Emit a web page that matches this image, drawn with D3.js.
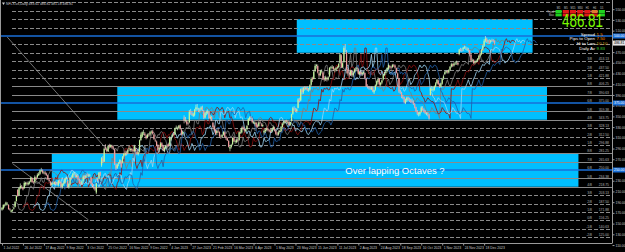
<!DOCTYPE html>
<html>
<head>
<meta charset="utf-8">
<script src="https://cdn.jsdelivr.net/npm/d3@7/dist/d3.min.js"></script>
<style>
html, body { margin: 0; padding: 0; background: #000; overflow: hidden; }
svg { display: block; font-family: "Liberation Sans", Arial, sans-serif; }
</style>
</head>
<body>
<svg id="chart" width="625" height="252"></svg>
<script>
// NFLX.us daily, 1 Jul 2022 .. 29 Dec 2023 (one row per month)
var opens = [
	176,178,184,185,187,185,177,172,174,178,181,192,213,203,216,219,217,216,223,225,
	223,225,228,235,228,227,236,236,240,243,249,249,245,245,243,240,232,228,222,226,224,227,224,
	222,230,227,218,224,226,234,229,218,224,236,236,243,241,237,239,232,225,225,230,238,
	236,242,240,240,236,224,219,216,208,232,234,246,259,271,266,292,289,285,295,293,295,
	292,288,259,254,261,263,266,264,275,278,283,282,290,287,289,288,285,290,284,280,284,
	306,312,320,318,314,311,316,316,320,322,316,306,303,296,289,292,300,295,286,291,296,
	298,297,307,312,318,316,329,326,328,333,325,317,348,343,341,337,339,359,356,351,
	353,363,365,362,361,363,366,360,348,356,357,358,346,349,338,331,325,319,323,
	321,312,312,316,320,312,309,304,290,293,298,310,303,302,306,306,320,320,330,327,323,326,334,
	344,348,346,338,336,338,332,332,339,335,332,320,322,325,327,324,323,322,326,
	329,323,318,316,321,323,330,337,339,342,339,340,334,342,355,365,363,360,366,382,380,400,
	395,404,401,403,399,400,409,421,420,435,444,444,430,427,433,432,420,419,420,419,425,
	440,441,442,436,437,440,442,450,464,442,452,478,470,438,428,428,435,427,432,438,
	439,438,429,433,429,431,431,420,406,404,404,401,404,395,400,409,414,420,409,413,419,427,431,
	435,439,444,442,442,446,445,440,430,420,397,394,386,385,375,380,385,381,380,378,
	377,373,367,360,354,354,359,366,363,360,355,356,353,390,401,400,400,406,412,417,410,405,
	411,421,429,432,434,432,437,443,447,445,449,450,450,466,476,474,475,478,478,476,476,
	473,465,454,455,450,452,454,457,463,466,474,482,491,495,490,492,489,492,492,491
];
var highs = [
	180,186,187,191,190,186,179,176,177,181,192,203,214,218,225,222,219,229,228,228,
	229,230,238,236,230,240,238,244,246,251,254,251,248,248,245,241,234,229,228,229,229,229,227,
	231,232,228,225,227,235,238,231,226,237,240,245,247,244,242,240,233,228,231,240,240,
	241,245,243,243,237,226,222,219,226,233,246,247,274,276,292,298,292,297,299,298,297,
	296,290,262,262,265,270,268,276,282,286,286,290,295,292,291,290,297,294,287,285,307,
	320,322,325,321,316,318,319,323,324,325,318,309,305,298,294,302,302,297,294,297,298,
	301,313,312,318,321,329,333,331,334,335,327,324,352,349,344,340,362,364,360,357,
	364,372,373,366,366,369,370,362,358,361,363,360,353,351,340,333,327,325,327,
	322,316,317,323,322,314,311,306,296,299,311,314,307,308,310,322,326,331,333,329,327,334,347,
	350,351,348,342,341,340,335,340,343,338,337,326,328,330,329,326,327,328,332,
	331,325,321,323,325,332,339,341,343,344,342,341,340,355,368,369,366,365,384,385,402,404,
	405,406,406,406,403,410,423,424,437,448,448,447,432,437,438,434,425,426,424,425,442,
	444,446,444,440,442,444,450,468,466,452,481,485,474,441,432,437,437,433,440,442,
	443,440,435,436,434,435,432,422,410,407,406,406,406,400,410,417,423,421,414,419,429,433,436,
	442,449,446,444,448,448,447,441,432,422,400,396,390,387,383,387,387,385,383,383,
	380,375,368,362,358,359,369,369,365,362,358,358,355,404,407,405,408,414,420,419,412,413,
	422,428,435,436,436,438,444,450,449,451,453,454,452,476,478,477,480,482,481,479,478,
	474,467,458,457,454,456,459,465,468,476,484,494,500,497,493,494,493,495,494,492
];
var lows = [
	174,176,180,183,184,176,174,170,172,176,180,191,200,202,214,215,212,215,220,221,
	221,223,227,226,224,226,231,235,239,241,246,243,242,240,239,231,227,220,220,223,222,222,221,
	219,225,216,215,221,224,232,217,215,222,232,234,240,236,234,231,224,221,222,228,233,
	234,238,237,237,223,218,214,211,205,228,233,239,256,263,265,287,283,284,290,291,289,
	287,259,250,252,257,261,254,262,271,276,277,279,285,284,284,282,283,285,278,277,282,
	304,310,315,313,307,309,312,313,318,316,306,302,294,285,283,290,292,285,283,289,292,
	293,295,304,310,313,315,326,324,326,325,314,315,337,339,333,333,337,353,351,349,
	350,359,361,358,357,361,360,345,346,352,354,345,344,341,328,322,315,315,319,
	310,308,310,314,311,306,304,292,285,290,296,302,299,300,302,304,317,318,325,320,320,324,333,
	342,344,337,336,333,329,329,330,336,331,330,316,319,322,322,320,319,320,324,
	322,315,313,314,318,321,328,334,336,337,336,332,332,340,353,361,358,357,365,376,378,391,
	392,398,399,397,396,398,407,414,419,433,439,430,422,425,430,418,415,416,415,417,423,
	437,438,435,432,434,438,440,448,440,440,450,470,430,426,422,426,424,424,430,433,
	436,428,427,426,426,428,419,405,402,400,399,399,395,392,398,407,411,407,406,410,417,425,428,
	432,437,439,437,440,442,439,430,420,394,392,384,382,374,373,377,379,377,375,374,
	371,365,358,352,350,351,357,361,357,354,352,350,344,389,397,396,398,404,410,408,403,403,
	409,418,427,430,430,430,435,441,442,443,446,446,445,464,471,470,472,476,474,472,469,
	462,451,451,447,447,450,452,455,460,464,472,480,488,487,485,485,486,489,488,484
];
var closes = [
	179.9,185.0,184.1,189.3,187.0,177.0,176.0,174.5,175.7,179.6,190.8,201.6,201.6,216.4,220.4,218.5,213.9,226.0,226.4,224.9,
	226.2,227.3,235.9,227.4,226.8,236.7,232.3,241.0,243.1,249.3,249.3,245.2,245.2,242.8,241.2,232.2,229.7,222.3,226.0,224.6,227.4,224.0,223.6,
	230.0,226.4,218.4,224.3,225.2,233.6,235.0,218.5,224.0,235.4,235.0,242.5,243.6,237.0,240.1,232.6,225.3,224.1,229.0,237.5,235.4,
	239.0,241.3,240.7,240.6,224.8,220.6,216.3,213.7,224.9,230.0,245.2,240.0,272.4,266.0,289.6,290.4,285.1,294.7,293.4,296.4,291.9,
	290.0,260.8,252.7,260.0,262.6,268.6,256.0,274.0,279.9,282.0,280.8,287.0,290.2,289.2,286.9,285.0,294.8,286.3,280.0,283.0,305.5,
	316.0,320.4,320.0,315.2,309.3,316.0,315.2,320.6,321.6,318.1,308.0,305.2,296.4,286.9,291.3,299.5,294.2,286.4,291.5,295.0,294.9,
	294.9,309.4,309.7,315.2,315.5,327.5,330.1,327.3,332.8,326.8,315.8,321.0,342.5,343.0,336.4,336.2,358.6,357.4,353.1,353.9,
	361.9,366.9,365.9,361.5,362.9,366.8,362.5,347.4,355.9,357.9,359.3,347.0,349.5,343.0,330.1,325.0,317.5,322.9,322.1,
	312.9,311.5,315.2,321.0,312.0,309.3,305.1,293.5,292.8,297.0,310.1,303.5,303.5,305.8,305.8,320.4,320.1,328.4,327.7,323.5,325.1,332.0,345.5,
	348.3,346.8,339.3,339.3,338.2,331.0,331.2,338.2,338.2,332.7,333.7,323.0,325.4,327.2,324.0,322.2,321.2,325.9,329.9,
	324.1,317.5,315.9,320.4,322.8,330.5,336.6,339.0,341.6,339.7,339.9,333.8,339.3,353.9,365.4,364.3,359.8,363.3,381.5,378.8,400.5,395.2,
	403.1,400.5,403.7,399.3,399.9,408.2,420.0,418.7,433.7,444.3,445.9,431.8,426.4,434.8,434.1,419.7,418.4,422.9,419.6,422.7,440.5,
	441.4,442.6,438.1,437.5,440.0,441.7,447.7,465.7,441.4,449.3,477.6,477.6,437.4,429.9,427.5,434.9,426.6,431.0,437.6,439.0,
	440.2,429.5,433.0,428.4,431.6,432.6,420.7,406.5,405.6,403.0,401.6,404.1,397.0,399.0,408.1,415.5,419.7,409.3,412.7,417.1,427.0,430.0,433.7,
	439.9,445.8,441.4,441.7,445.8,445.0,441.1,431.4,421.9,396.9,394.7,386.3,384.3,376.5,379.8,384.8,382.0,379.2,377.6,377.6,
	373.7,367.2,360.4,354.8,355.7,358.2,366.5,363.2,359.2,355.7,355.7,354.0,346.2,401.8,401.0,400.5,405.8,411.7,418.4,410.1,405.7,411.7,
	420.2,424.7,432.4,434.7,432.5,436.6,442.6,447.2,444.6,448.7,450.2,450.5,446.9,474.5,474.5,473.2,478.0,479.2,477.9,476.1,474.0,
	465.7,453.9,455.1,449.4,452.0,453.8,457.5,463.1,466.0,473.4,481.4,491.0,495.0,489.0,491.6,486.8,491.6,491.8,490.5,486.8
];

// one label every 16 bars, as the terminal draws them
var timeLabels = ["1 Jul 2022","26 Jul 2022","17 Aug 2022","9 Sep 2022","3 Oct 2022","25 Oct 2022","16 Nov 2022","9 Dec 2022",
	"4 Jan 2023","27 Jan 2023","21 Feb 2023","16 Mar 2023","6 Apr 2023","1 May 2023","23 May 2023","15 Jun 2023",
	"11 Jul 2023","2 Aug 2023","24 Aug 2023","18 Sep 2023","10 Oct 2023","1 Nov 2023","24 Nov 2023","18 Dec 2023"];

// murrey math levels (1/8 of a 125 octave) and the octave zones
var mmLevels = [562.5,546.875,531.25,515.625,500,484.375,468.75,453.125,437.5,421.875,406.25,390.625,375,359.375,343.75,
	328.125,312.5,296.875,281.25,265.625,250,234.375,218.75,203.125,187.5,171.875,156.25,140.625,125,109.375];
var mmNames = ["+2/8","+1/8","8/8","7/8","6/8","5/8","4/8","3/8","2/8","1/8","8/8","7/8","6/8","5/8","4/8",
	"3/8","2/8","1/8","8/8","7/8","6/8","5/8","4/8","3/8","2/8","1/8","0/8","-1/8","-2/8","-1/8"];
var octaveMids = [500, 375, 250];
var zones = [ // [from bar, to bar, top price, bottom price]
	[225, 405, 531.25, 468.75],
	[88, 416, 406.25, 343.75],
	[38, 440, 281.25, 218.75]
];
var solidBands = [[406.25, 343.75], [281.25, 218.75]];
var priceTicks = [550,530,510,490,470,450,430,410,390,370,350,330,310,290,270,250,230,210,190,170,150,130,110];

// hand drawn trend lines: [bar, price, bar, price]
var trendLines = [[4, 498, 82, 283], [8, 262, 66, 157]];

// displaced close lines: [shift in bars, colour]
var shiftLines = [[8, "#7c7c7c"], [16, "#8b1010"], [24, "#9ad4f5"], [32, "#1f5fa8"]];

// timeframe trend table (1 = up, 0 = down, 2 = mixed)
var tfNames = ["M1","M5","M15","M30","H1","H4","D1"];
var tfRow1 = [1, 0, 0, 0, 0, 2, 1];
var tfRow2 = [1, 0, 0, 0, 0, 0, 1];

var info = { price: "486.81", spread: "1.5", pipsToOpen: "7.50", hiToLow: "10.10", dailyAv: "9.83" };
var ohlcText = "NFLX.us,Daily  483.61 486.82 481.18 486.81";

var svg = d3.select("#chart");
var W = 625, H = 252;
var plot = { left: 0, right: 612, top: 0, bottom: 243 };
var small = 3.4;

var x = d3.scaleLinear().domain([0, 466]).range([2, 612.5]);
var y = d3.scaleLinear().domain([125, 500]).range([237, 36]);

svg.append("rect").attr("width", W).attr("height", H).attr("fill", "#000");

var g = svg.append("g");
g.append("clipPath").attr("id", "clip").append("rect")
	.attr("x", 0).attr("y", 0).attr("width", plot.right).attr("height", plot.bottom);
var inner = g.append("g").attr("clip-path", "url(#clip)");

// octave zones
inner.selectAll(".zone").data(zones).enter().append("rect")
	.attr("class", "zone")
	.attr("x", function(d) { return x(d[0]); })
	.attr("width", function(d) { return x(d[1]) - x(d[0]); })
	.attr("y", function(d) { return y(d[2]); })
	.attr("height", function(d) { return y(d[3]) - y(d[2]); })
	.attr("fill", "#00bfff");

// murrey lines, solid inside the two lower bands
function isSolid(v) {
	return solidBands.some(function(b) { return v <= b[0] + 0.01 && v >= b[1] - 0.01; });
}
inner.selectAll(".mm").data(mmLevels.filter(function(v) { return octaveMids.indexOf(v) < 0; })).enter().append("line")
	.attr("class", "mm")
	.attr("x1", 12).attr("x2", plot.right)
	.attr("y1", function(d) { return Math.round(y(d)) + 0.5; })
	.attr("y2", function(d) { return Math.round(y(d)) + 0.5; })
	.attr("stroke", "#8a8a8a")
	.attr("stroke-width", 1)
	.attr("stroke-dasharray", function(d) { return isSolid(d) ? null : "4,2"; });

// octave mid lines
inner.selectAll(".mid").data(octaveMids).enter().append("line")
	.attr("x1", 0).attr("x2", plot.right)
	.attr("y1", function(d) { return y(d); }).attr("y2", function(d) { return y(d); })
	.attr("stroke", "#1a6fd8").attr("stroke-width", 1.6);

// trend lines
inner.selectAll(".tl").data(trendLines).enter().append("line")
	.attr("x1", function(d) { return x(d[0]); }).attr("y1", function(d) { return y(d[1]); })
	.attr("x2", function(d) { return x(d[2]); }).attr("y2", function(d) { return y(d[3]); })
	.attr("stroke", "#a0a0a0").attr("stroke-width", 0.7);

// displaced lines
shiftLines.forEach(function(s) {
	var line = d3.line()
		.x(function(d, i) { return x(i + s[0]); })
		.y(function(d) { return y(d); });
	inner.append("path")
		.attr("d", line(closes))
		.attr("fill", "none")
		.attr("stroke", s[1])
		.attr("stroke-width", 0.8);
});

// candles
var bars = inner.append("g");
closes.forEach(function(c, i) {
	var up = c >= opens[i];
	var cx = x(i);
	bars.append("line")
		.attr("x1", cx).attr("x2", cx)
		.attr("y1", y(highs[i])).attr("y2", y(lows[i]))
		.attr("stroke", up ? "#eaffd8" : "#ffd6d6").attr("stroke-width", 0.6);
	var y0 = y(Math.max(opens[i], c)), y1 = y(Math.min(opens[i], c));
	bars.append("rect")
		.attr("x", cx - 0.6).attr("width", 1.2)
		.attr("y", y0).attr("height", Math.max(0.6, y1 - y0))
		.attr("fill", up ? "#c4f59a" : "#f29a9a");
});

// murrey labels at the right (hidden behind the info panel near the top)
var labelled = mmLevels.filter(function(v) { return y(v) > 55 && y(v) < 241; });
inner.selectAll(".mml").data(labelled).enter().append("text")
	.attr("x", 592).attr("y", function(d) { return y(d) - 0.8; })
	.attr("text-anchor", "end")
	.attr("font-size", small).attr("fill", "#b0b0b0")
	.text(function(d) { return mmNames[mmLevels.indexOf(d)]; });
inner.selectAll(".mmp").data(labelled).enter().append("text")
	.attr("x", 609).attr("y", function(d) { return y(d) - 0.8; })
	.attr("text-anchor", "end")
	.attr("font-size", small).attr("fill", "#b0b0b0")
	.text(function(d) { return d.toFixed(2); });

// text in the bottom zone
inner.append("text")
	.attr("x", 395).attr("y", y(250) + 3.5)
	.attr("text-anchor", "middle")
	.attr("font-size", 9.5).attr("fill", "#ffffff")
	.text("Over lapping Octaves ?");

// frame and axes
g.append("line").attr("x1", plot.right + 0.5).attr("x2", plot.right + 0.5).attr("y1", 0).attr("y2", plot.bottom)
	.attr("stroke", "#9a9a9a");
g.append("line").attr("x1", 0).attr("x2", plot.right + 0.5).attr("y1", plot.bottom + 0.5).attr("y2", plot.bottom + 0.5)
	.attr("stroke", "#9a9a9a");
g.append("line").attr("x1", 0.5).attr("x2", 0.5).attr("y1", 0).attr("y2", plot.bottom)
	.attr("stroke", "#9a9a9a");

var yAxis = d3.axisRight(y).tickValues(priceTicks).tickSize(2).tickFormat(function(d) { return d.toFixed(2); });
var ya = g.append("g").attr("transform", "translate(" + (plot.right + 0.5) + ",0)").call(yAxis);
ya.select(".domain").remove();
ya.selectAll("line").attr("stroke", "#9a9a9a");
ya.selectAll("text").attr("fill", "#c8c8c8").attr("font-size", small).attr("x", 3);

// highlighted price labels
octaveMids.forEach(function(v) {
	g.append("rect").attr("x", plot.right + 1).attr("y", y(v) - 2.5).attr("width", 12).attr("height", 5).attr("fill", "#1a6fd8");
	g.append("text").attr("x", plot.right + 2).attr("y", y(v) + 1.3).attr("font-size", small).attr("fill", "#fff").text(v.toFixed(2));
});
g.append("rect").attr("x", plot.right + 1).attr("y", y(+info.price) - 2.5).attr("width", 12).attr("height", 5).attr("fill", "#e8e8e8");
g.append("text").attr("x", plot.right + 2).attr("y", y(+info.price) + 1.3).attr("font-size", small).attr("fill", "#000").text(info.price);

var xAxis = d3.axisBottom(x).tickValues(timeLabels.map(function(d, i) { return i * 16; })).tickSize(2)
	.tickFormat(function(d) { return timeLabels[d / 16]; });
var xa = g.append("g").attr("transform", "translate(0," + (plot.bottom + 0.5) + ")").call(xAxis);
xa.select(".domain").remove();
xa.selectAll("line").attr("stroke", "#9a9a9a");
xa.selectAll("text").attr("fill", "#c8c8c8").attr("font-size", small).attr("text-anchor", "start").attr("dx", 1).attr("y", 3);

// title
g.append("path").attr("d", "M2,2.5 L5,2.5 L3.5,5 Z").attr("fill", "#d0d0d0");
g.append("text").attr("x", 6).attr("y", 5).attr("font-size", small).attr("fill", "#d0d0d0").text(ohlcText);

// timeframe table
var tf = g.append("g");
var cellW = 7.2, cx0 = 555;
tfNames.forEach(function(n, i) {
	tf.append("text").attr("x", cx0 + i * cellW + cellW / 2).attr("y", 8.5).attr("text-anchor", "middle")
		.attr("font-size", 2.6).attr("fill", "#c0c0c0").text(n);
	[tfRow1, tfRow2].forEach(function(row, r) {
		var c = row[i] === 1 ? "#1fd21f" : row[i] === 2 ? "#e07a30" : "#e01818";
		tf.append("rect").attr("x", cx0 + i * cellW + 0.5).attr("y", 10 + r * 3.4)
			.attr("width", cellW - 1).attr("height", 3).attr("fill", c);
	});
});
tf.append("text").attr("x", cx0 - 1).attr("y", 12.6).attr("text-anchor", "end").attr("font-size", 2.6).attr("fill", "#c0c0c0").text("Trend");
tf.append("text").attr("x", cx0 - 1).attr("y", 16).attr("text-anchor", "end").attr("font-size", 2.6).attr("fill", "#c0c0c0").text("Bias");

// info panel; the big price is drawn narrow and tall
var panel = g.append("g");
panel.append("text").attr("transform", "translate(562,27) scale(1,1.4)")
	.attr("font-size", 13.4).attr("fill", "#7cfc00").text(info.price);
var rows = [["Spread", info.spread, "#ff8c00"], ["Pips to Open", info.pipsToOpen, "#ff8c00"],
	["Hi to Low", info.hiToLow, "#d4a017"], ["Daily Av", info.dailyAv, "#32cd32"]];
rows.forEach(function(r, i) {
	panel.append("text").attr("x", 595).attr("y", 35.6 + i * 4.7).attr("text-anchor", "end")
		.attr("font-size", 4.4).attr("fill", "#fff").text(r[0]);
	panel.append("text").attr("x", 596.5).attr("y", 35.6 + i * 4.7)
		.attr("font-size", 4.4).attr("fill", r[2]).text(r[1]);
});
</script>
</body>
</html>
